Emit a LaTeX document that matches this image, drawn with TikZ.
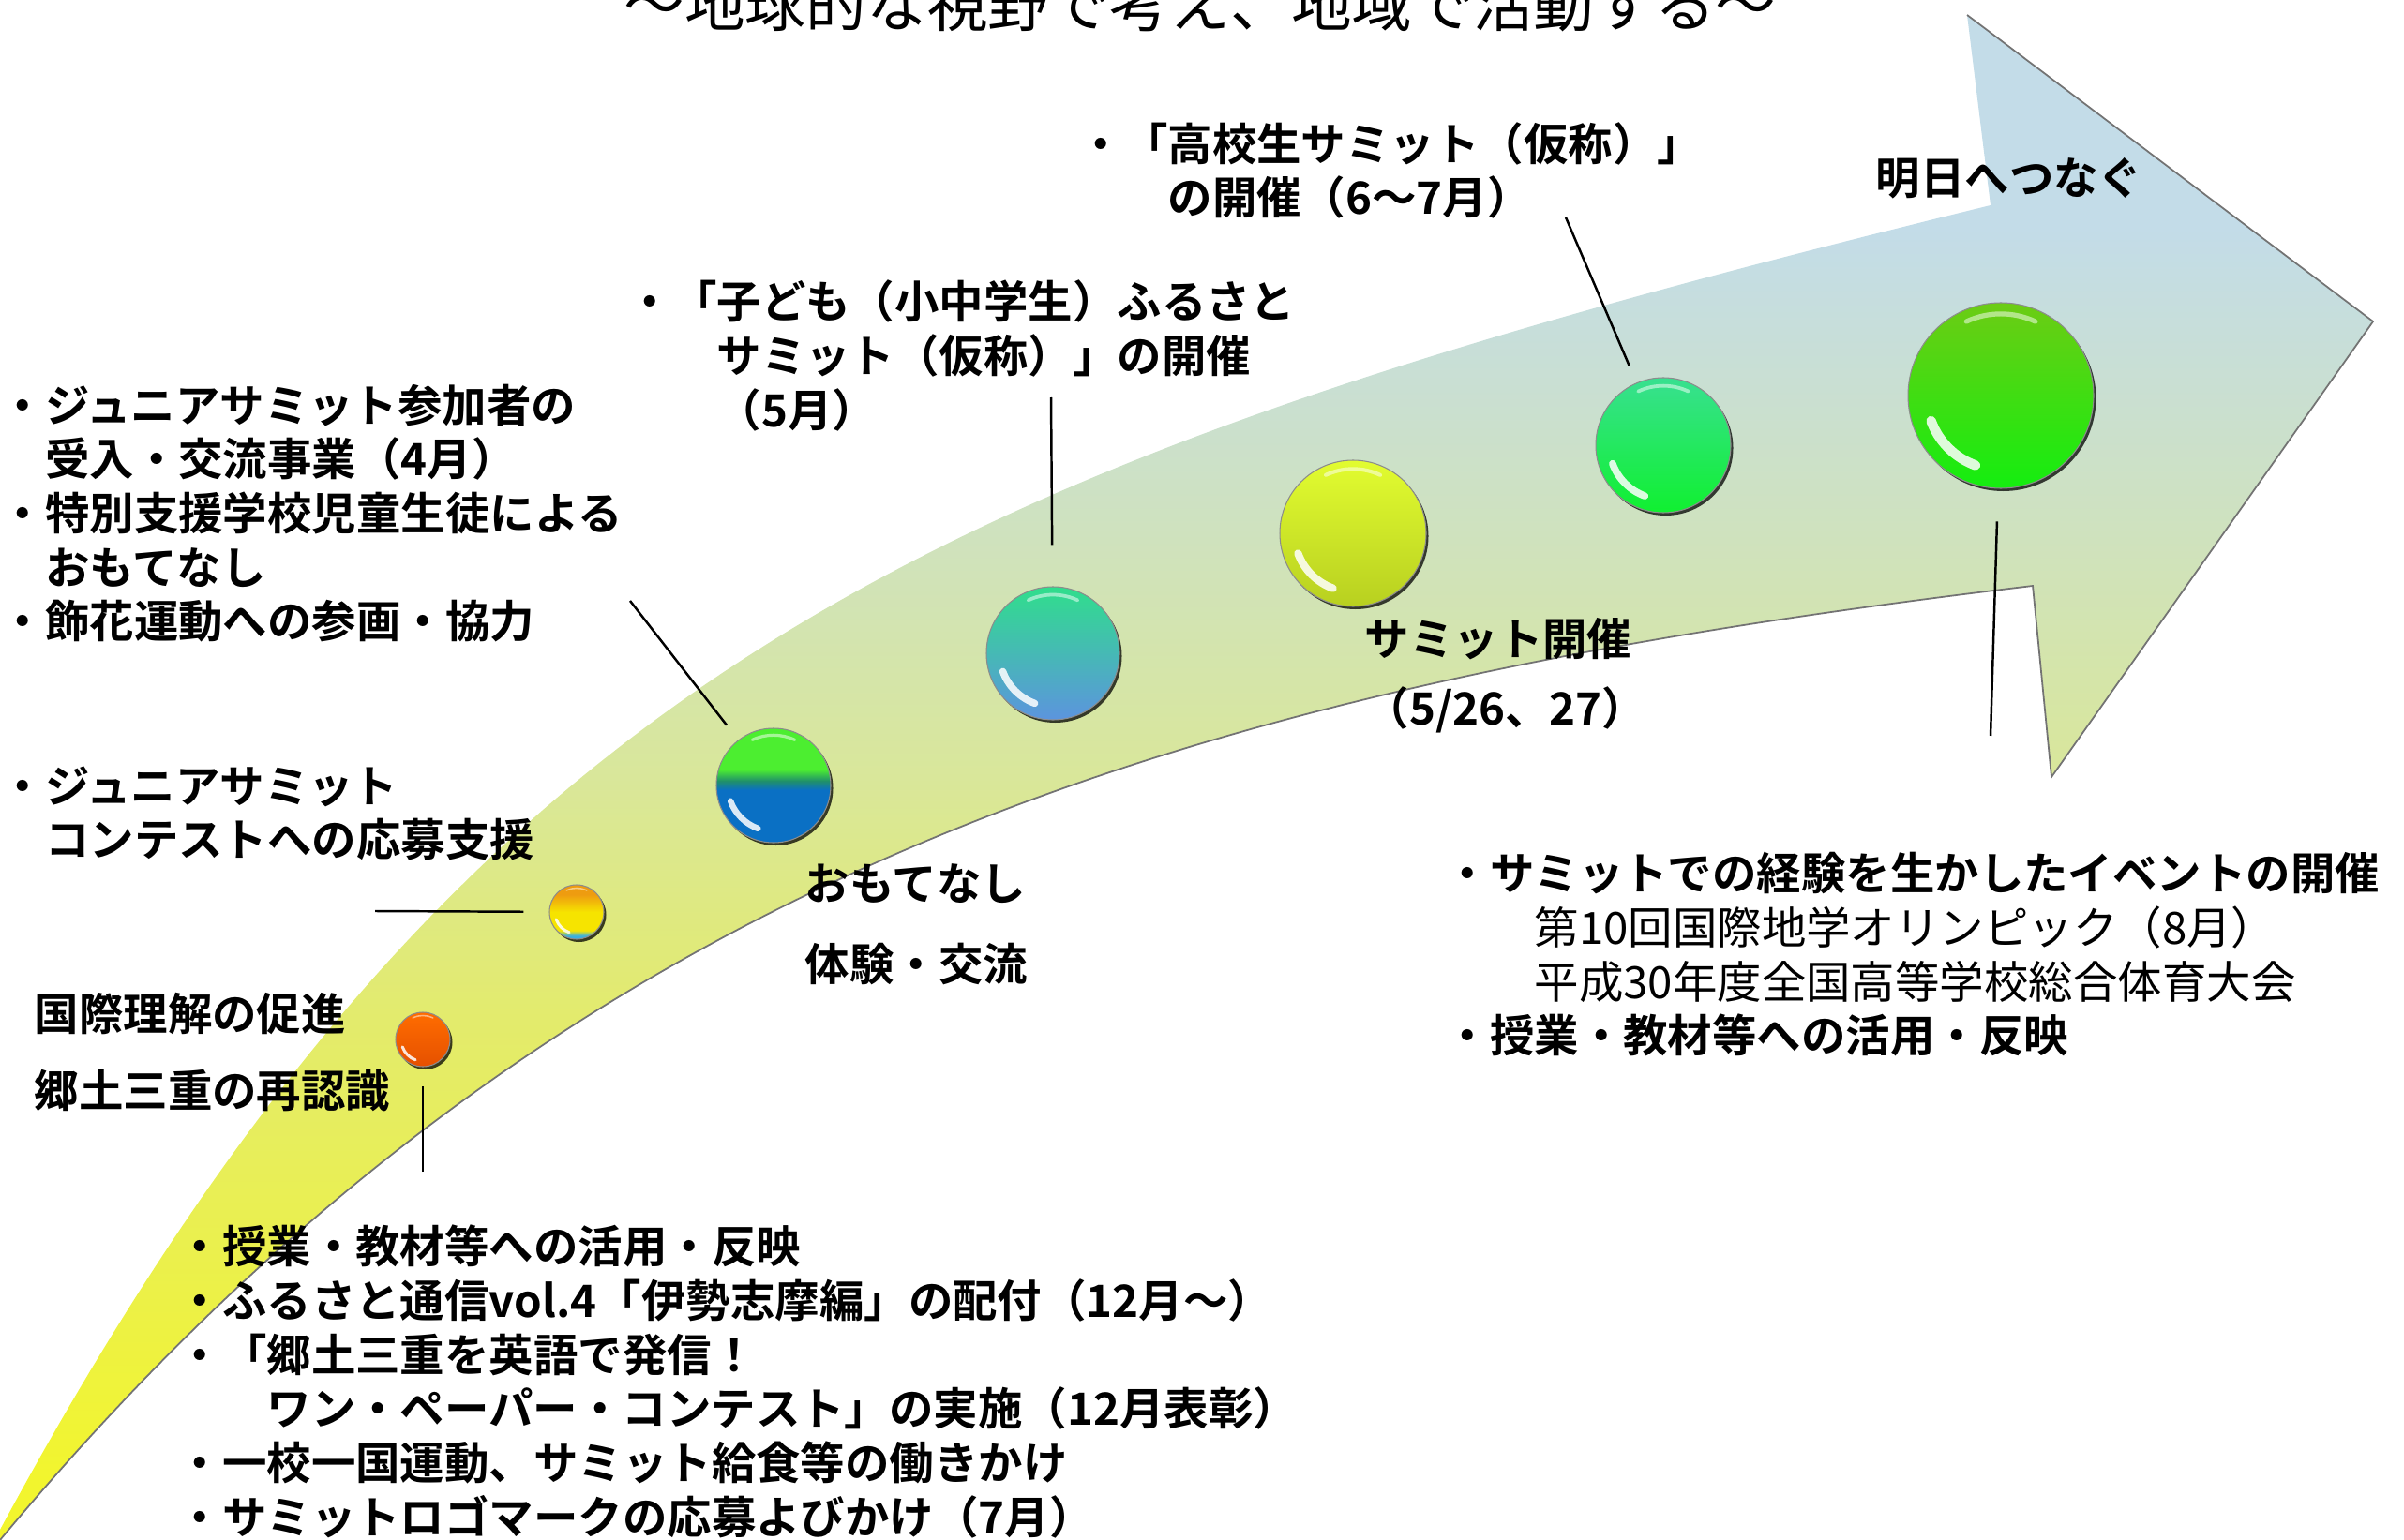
\documentclass[tikz,border=0pt]{standalone}
\usepackage{fontspec}
\setmainfont{Noto Sans CJK JP}[BoldFont=* Bold]
\usetikzlibrary{shadows}

\definecolor{arrowYellow}{HTML}{F2F52E}
\definecolor{arrowLime}{HTML}{E3EB6C}
\definecolor{arrowMid}{HTML}{D9E79A}
\definecolor{arrowSage}{HTML}{CFE2BE}
\definecolor{arrowBlue}{HTML}{C3DCE8}
\definecolor{orbBlue}{HTML}{0A70C4}
\definecolor{orbTeal}{HTML}{20906A}
\definecolor{orbGreen}{HTML}{4CEE30}
\definecolor{orbSky}{HTML}{3AB0E0}
\definecolor{orbLemon}{HTML}{F6E400}
\definecolor{orbAmber}{HTML}{EE9C10}

\pgfdeclareverticalshading{arrowfade}{100bp}{color(0bp)=(arrowYellow); color(27bp)=(arrowYellow); color(42bp)=(arrowLime); color(50bp)=(arrowMid); color(58bp)=(arrowSage); color(68bp)=(arrowBlue); color(100bp)=(arrowBlue)}
\pgfdeclareverticalshading{orbtwo}{100bp}{color(0bp)=(orbSky); color(28bp)=(orbSky); color(33bp)=(orbLemon); color(50bp)=(orbLemon); color(66bp)=(orbAmber); color(100bp)=(orbAmber)}
\pgfdeclareverticalshading{orbthree}{100bp}{color(0bp)=(orbBlue); color(48bp)=(orbBlue); color(52bp)=(orbTeal); color(57bp)=(orbGreen); color(100bp)=(orbGreen)}

\tikzset{
  lbl/.style={inner sep=0pt, anchor=west, align=left, font=\fontsize{13.5}{16.4}\selectfont\bfseries},
  orb/.style={circle, inner sep=0pt, draw=black!45, line width=.3pt,
    drop shadow={shadow xshift=.025cm, shadow yshift=-.03cm, opacity=.75, fill=black}},
  leader/.style={draw=black, line width=.7pt},
  rim/.style={draw=black!55, line width=.5pt}
}

\newcommand{\gloss}[2]{%
  \draw[white, opacity=.85, line width=#2*3pt, line cap=round]
    ([shift={(200:#2*0.8)}]#1.center) arc[start angle=200, end angle=250, radius=#2*0.8];
  \draw[white, opacity=.5, line width=#2*1.5pt, line cap=round]
    ([shift={(65:#2*0.88)}]#1.center) arc[start angle=65, end angle=115, radius=#2*0.88];
}

\begin{document}
\begin{tikzpicture}
\useasboundingbox (0,0) rectangle (25.64,-16.43);

% the big arrow
\shade[shading=arrowfade] (0,-16.32) .. controls (5.00,-7.05) and (10.00,-4.94) .. (21.23,-2.19)
  -- (20.98,-0.16) -- (25.31,-3.43) -- (21.88,-8.29) -- (21.68,-6.25)
  .. controls (12.68,-7.32) and (6.00,-9.23) .. (0,-16.43) -- cycle;
\draw[rim] (20.98,-0.16) -- (25.31,-3.43) -- (21.88,-8.29) -- (21.68,-6.25)
  .. controls (12.68,-7.32) and (6.00,-9.23) .. (0,-16.43);

\node[font=\fontsize{18.4}{22}\selectfont, anchor=base] (title) at (12.80,-0.285) {～地球的な視野で考え、地域で活動する～};

% balls
\node[orb, minimum size=.58cm, top color=orange!85!red, bottom color=orange!70!red!90!black] (b1) at (4.51,-11.09) {};
\node[orb, minimum size=.58cm, shading=orbtwo] (b2) at (6.15,-9.73) {};
\node[orb, minimum size=1.22cm, shading=orbthree] (b3) at (8.25,-8.38) {};
\node[orb, minimum size=1.42cm, top color={rgb,255:red,48;green,222;blue,140}, bottom color={rgb,255:red,92;green,148;blue,222}] (b4) at (11.23,-6.97) {};
\node[orb, minimum size=1.56cm, top color={rgb,255:red,226;green,252;blue,48}, bottom color={rgb,255:red,184;green,208;blue,32}] (b5) at (14.43,-5.69) {};
\node[orb, minimum size=1.44cm, top color={rgb,255:red,56;green,224;blue,144}, bottom color={rgb,255:red,16;green,240;blue,48}] (b6) at (17.74,-4.75) {};
\node[orb, minimum size=1.98cm, top color={rgb,255:red,108;green,204;blue,20}, bottom color={rgb,255:red,20;green,238;blue,16}] (b7) at (21.34,-4.22) {};
\gloss{b1}{.29}
\gloss{b2}{.29}
\gloss{b3}{.61}
\gloss{b4}{.71}
\gloss{b5}{.78}
\gloss{b6}{.72}
\gloss{b7}{.99}

% labels
\node[lbl] (welcome) at (0,-5.475) {・ジュニアサミット参加者の\\\hspace*{1em}受入・交流事業（4月）\\・特別支援学校児童生徒による\\\hspace*{1em}おもてなし\\・飾花運動への参画・協力};
\node[lbl] (contest) at (0,-8.68) {・ジュニアサミット\\\hspace*{1em}コンテストへの応募支援};
\node[lbl] (intl) at (.36,-10.82) {国際理解の促進};
\node[lbl] (local) at (.36,-11.64) {郷土三重の再認識};
\node[lbl] (host) at (8.58,-9.43) {おもてなし};
\node[lbl] (meet) at (8.58,-10.28) {体験・交流};
\node[lbl] (summit) at (14.55,-6.82) {サミット開催};
\node[lbl] (dates) at (14.55,-7.57) {（5/26、27）};
\node[lbl] (future) at (20.00,-1.90) {明日へつなぐ};
\node[lbl] (kids) at (6.69,-3.795) {・「子ども（小中学生）ふるさと\\\hspace*{2em}サミット（仮称）」の開催\\\hspace*{2em}（5月）};
\node[lbl] (high) at (11.50,-1.82) {・「高校生サミット（仮称）」\\\hspace*{2em}の開催（6～7月）};
\node[lbl] (after) at (15.41,-10.185) {・サミットでの経験を生かしたイベントの開催\\\hspace*{2em}{\mdseries 第10回国際地学オリンピック（8月）}\\\hspace*{2em}{\mdseries 平成30年度全国高等学校総合体育大会}\\・授業・教材等への活用・反映};
\node[lbl] (school) at (1.89,-14.74) {・授業・教材等への活用・反映\\・ふるさと通信vol.4「伊勢志摩編」の配付（12月～）\\・「郷土三重を英語で発信！\\\hspace*{2em}ワン・ペーパー・コンテスト」の実施（12月表彰）\\・一校一国運動、サミット給食等の働きかけ\\・サミットロゴマークの応募よびかけ（7月）};

% leader lines
\coordinate (c1) at (4.51,-12.50);
\coordinate (c2) at (4.00,-9.72);
\coordinate (c3) at (6.72,-6.41);
\coordinate (c4) at (11.21,-4.24);
\coordinate (c5) at (16.70,-2.32);
\coordinate (c6) at (21.23,-7.85);
\draw[leader, shorten >=.2cm] (c1) -- (b1);
\draw[leader, shorten >=.27cm] (c2) -- (b2);
\draw[leader, shorten >=.2cm] (c3) -- (b3);
\draw[leader, shorten >=.44cm] (c4) -- (b4);
\draw[leader, shorten >=.2cm] (c5) -- (b6);
\draw[leader, shorten >=.35cm] (c6) -- (b7);
\end{tikzpicture}
\end{document}
